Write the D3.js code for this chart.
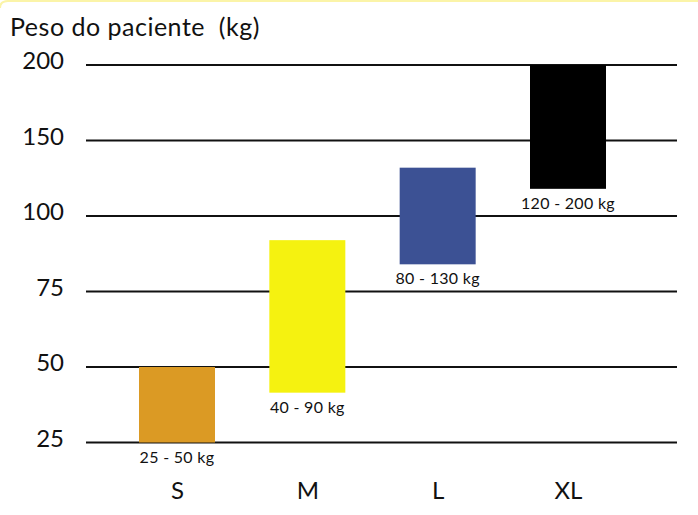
<!DOCTYPE html>
<html>
<head>
<meta charset="utf-8">
<script src="https://cdn.jsdelivr.net/npm/d3@7"></script>
<style>
  html, body { margin: 0; padding: 0; background: #fff; }
  svg { display: block; }
  text { font-family: Lato, "Open Sans", sans-serif; fill: #111; }
</style>
</head>
<body>
<script>
// ---- data ----
const categories = ["S", "M", "L", "XL"];
const lowValues  = [25, 41.5, 84, 118];
const highValues = [50, 92, 132, 200];
const rangeLabels = ["25 - 50 kg", "40 - 90 kg", "80 - 130 kg", "120 - 200 kg"];
const barColors = ["#db9a24", "#f5f210", "#3c5194", "#000000"];
const yTicks = [25, 50, 75, 100, 150, 200];
const yTitle = "Peso do paciente  (kg)";

// ---- layout ----
const W = 698, H = 515;
const plotLeft = 86, plotRight = 677;
const plotBottom = 442.5, plotTop = 65;
const step = (plotBottom - plotTop) / (yTicks.length - 1);

const svg = d3.select("body").append("svg").attr("width", W).attr("height", H);

// pale yellow top border
svg.append("path")
  .attr("d", `M0,8 Q0,1 8,1 L${W},1`)
  .attr("fill", "none").attr("stroke", "#fbf4a8").attr("stroke-width", 2);

// piecewise scale: ticks equally spaced
const y = d3.scaleLinear()
  .domain(yTicks)
  .range(yTicks.map((d, i) => plotBottom - i * step));

const x = d3.scalePoint().domain(categories).range([177, 568]);
const barW = 76;

// gridlines
svg.append("g").selectAll("line").data(yTicks).join("line")
  .attr("x1", plotLeft).attr("x2", plotRight)
  .attr("y1", d => y(d)).attr("y2", d => y(d))
  .attr("stroke", "#111").attr("stroke-width", 2);

// y axis labels
const yAxis = d3.axisLeft(y).tickValues(yTicks).tickSize(0).tickPadding(0);
const gy = svg.append("g").attr("transform", `translate(64,0)`).call(yAxis);
gy.select(".domain").remove();
gy.selectAll("text")
  .attr("font-size", 24).attr("font-family", "Lato, sans-serif")
  .attr("fill", "#111").attr("dy", "0.15em");

// title
svg.append("text").attr("x", 10).attr("y", 36)
  .attr("font-size", 25).attr("letter-spacing", 0.5)
  .attr("xml:space", "preserve").text(yTitle);

// bars
const data = categories.map((c, i) => ({c, lo: lowValues[i], hi: highValues[i], label: rangeLabels[i], color: barColors[i]}));
svg.append("g").selectAll("rect").data(data).join("rect")
  .attr("x", d => x(d.c) - barW / 2)
  .attr("width", barW)
  .attr("y", d => y(d.hi))
  .attr("height", d => y(d.lo) - y(d.hi))
  .attr("fill", d => d.color);

// range labels
svg.append("g").selectAll("text").data(data).join("text")
  .attr("x", d => x(d.c))
  .attr("y", d => y(d.lo) + 20)
  .attr("text-anchor", "middle")
  .attr("font-size", 16).attr("letter-spacing", 0.3)
  .text(d => d.label);

// x axis category labels
const xAxis = d3.axisBottom(x).tickSize(0).tickPadding(0);
const gx = svg.append("g").attr("transform", `translate(0,${plotBottom + 56})`).call(xAxis);
gx.select(".domain").remove();
gx.selectAll("text")
  .attr("font-size", 24).attr("font-family", "Lato, sans-serif")
  .attr("fill", "#111").attr("dy", 0);
</script>
</body>
</html>
